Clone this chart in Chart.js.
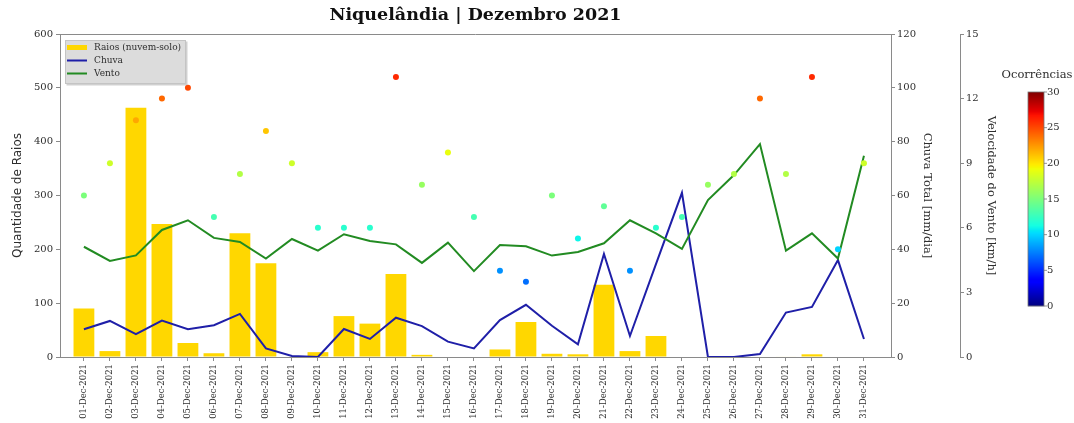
<!DOCTYPE html>
<html>
<head>
<meta charset="utf-8">
<title>Niquelândia | Dezembro 2021</title>
<script src="https://cdn.jsdelivr.net/npm/chart.js@4.4.0/dist/chart.umd.min.js"></script>
<style>
  html, body { margin: 0; padding: 0; background: #fff; }
  #grafico { display: block; }
</style>
</head>
<body>
<canvas id="grafico" width="1074" height="423"></canvas>
<script>
// Dados diários - Niquelândia, dezembro de 2021
const dias = [
  '01-Dec-2021', '02-Dec-2021', '03-Dec-2021', '04-Dec-2021', '05-Dec-2021', '06-Dec-2021',
  '07-Dec-2021', '08-Dec-2021', '09-Dec-2021', '10-Dec-2021', '11-Dec-2021', '12-Dec-2021',
  '13-Dec-2021', '14-Dec-2021', '15-Dec-2021', '16-Dec-2021', '17-Dec-2021', '18-Dec-2021',
  '19-Dec-2021', '20-Dec-2021', '21-Dec-2021', '22-Dec-2021', '23-Dec-2021', '24-Dec-2021',
  '25-Dec-2021', '26-Dec-2021', '27-Dec-2021', '28-Dec-2021', '29-Dec-2021', '30-Dec-2021',
  '31-Dec-2021'
];

// Raios nuvem-solo por dia
const raios = [90, 11, 463, 247, 26, 7, 230, 174, 0, 9, 76, 62, 154, 4, 0, 0,
               14, 65, 6, 5, 134, 11, 39, 0, 0, 0, 0, 1, 5, 0, 0];

// Chuva total [mm/dia]
const chuva = [10.3, 13.4, 8.5, 13.5, 10.3, 11.8, 16.0, 3.2, 0.4, 0, 10.4, 6.7, 14.6, 11.5, 5.7, 3.2,
               13.7, 19.4, 11.6, 4.7, 38.3, 7.8, 34.5, 61.0, 0, 0, 1.1, 16.5, 18.6, 36.0, 6.7];

// Velocidade do vento [km/h]
const vento = [5.12, 4.46, 4.72, 5.90, 6.35, 5.53, 5.34, 4.57, 5.48, 4.94, 5.70, 5.39, 5.23, 4.37, 5.31, 3.99,
               5.20, 5.14, 4.71, 4.88, 5.28, 6.35, 5.74, 5.02, 7.29, 8.45, 9.89, 4.94, 5.74, 4.57, 9.35];

// Número de ocorrências por dia (cor e altura dos pontos)
const ocorrencias = [15, 18, 22, 24, 25, 13, 17, 21, 18, 12, 12, 12, 26, 16, 19, 13,
                     8, 7, 15, 11, 14, 8, 12, 13, 16, 17, 24, 17, 26, 10, 18];

const ticksBarra = [0, 5, 10, 15, 20, 25, 30];

const serif = 'DejaVu Serif';
const corTexto = '#2e2e2e';
const corEixo = '#8a8a8a';

// colormap "jet" do matplotlib
function jet(v) {
  v = Math.min(1, Math.max(0, v));
  const interp = (pts) => {
    for (let i = 1; i < pts.length; i++) {
      if (v <= pts[i][0]) {
        const [x0, y0] = pts[i - 1];
        const [x1, y1] = pts[i];
        return y0 + (y1 - y0) * (v - x0) / (x1 - x0);
      }
    }
    return pts[pts.length - 1][1];
  };
  const r = interp([[0, 0], [0.35, 0], [0.66, 1], [0.89, 1], [1, 0.5]]);
  const g = interp([[0, 0], [0.125, 0], [0.375, 1], [0.64, 1], [0.91, 0], [1, 0]]);
  const b = interp([[0, 0.5], [0.11, 1], [0.34, 1], [0.65, 0], [1, 0]]);
  return `rgb(${Math.round(r * 255)},${Math.round(g * 255)},${Math.round(b * 255)})`;
}

const pontos = (arr) => arr.map((v, i) => ({ x: i, y: v }));

// linha superior do quadro
const moldura = {
  id: 'moldura',
  afterDraw(chart) {
    const { ctx, chartArea: a } = chart;
    ctx.save();
    ctx.strokeStyle = corEixo;
    ctx.lineWidth = 1;
    ctx.beginPath();
    ctx.moveTo(a.left, a.top + 0.5);
    ctx.lineTo(a.right, a.top + 0.5);
    ctx.stroke();
    ctx.restore();
  }
};

// legenda dentro do gráfico, canto superior esquerdo
const legendaInterna = {
  id: 'legendaInterna',
  afterDraw(chart) {
    const { ctx, chartArea: a } = chart;
    const x = a.left + 5, y = a.top + 6, w = 121, h = 44;
    ctx.save();
    ctx.fillStyle = 'rgba(150,150,150,0.45)';
    ctx.fillRect(x + 1.5, y + 1.5, w, h);
    ctx.fillStyle = '#dcdcdc';
    ctx.fillRect(x, y, w, h);
    ctx.strokeStyle = '#c4c4c4';
    ctx.lineWidth = 1;
    ctx.strokeRect(x + 0.5, y + 0.5, w - 1, h - 1);

    const itens = chart.data.datasets.filter(d => d.type !== 'scatter').reverse();
    ctx.font = `9px "${serif}"`;
    ctx.textBaseline = 'middle';
    itens.forEach((d, i) => {
      const cy = y + 7.5 + i * 13;
      if (d.type === 'bar') {
        ctx.fillStyle = d.backgroundColor;
        ctx.fillRect(x + 2, cy - 2.5, 20, 5);
      } else {
        ctx.strokeStyle = d.borderColor;
        ctx.lineWidth = 2;
        ctx.beginPath();
        ctx.moveTo(x + 2, cy);
        ctx.lineTo(x + 22, cy);
        ctx.stroke();
      }
      ctx.fillStyle = corTexto;
      ctx.fillText(d.label, x + 29, cy);
    });
    ctx.restore();
  }
};

// barra de cores das ocorrências
const barraCores = {
  id: 'barraCores',
  afterDraw(chart) {
    const { ctx } = chart;
    const x = 1028, top = 92, w = 16, h = 214;
    const vmax = ticksBarra[ticksBarra.length - 1];
    ctx.save();
    for (let i = 0; i < h; i++) {
      ctx.fillStyle = jet(1 - (i + 0.5) / h);
      ctx.fillRect(x, top + i, w, 1.2);
    }
    ctx.strokeStyle = '#777';
    ctx.lineWidth = 0.8;
    ctx.strokeRect(x, top, w, h);

    ctx.fillStyle = corTexto;
    ctx.font = `10px "${serif}"`;
    ctx.textBaseline = 'middle';
    ctx.textAlign = 'left';
    ticksBarra.forEach(t => {
      const ty = top + h - (t / vmax) * h;
      ctx.beginPath();
      ctx.moveTo(x + w, ty);
      ctx.lineTo(x + w + 3, ty);
      ctx.stroke();
      ctx.fillText(String(t), x + w + 3, ty);
    });
    ctx.font = `11.5px "${serif}"`;
    ctx.textAlign = 'center';
    ctx.fillText('Ocorrências', x + w / 2 + 1, top - 17);
    ctx.restore();
  }
};

Chart.defaults.font.family = serif;
Chart.defaults.color = corTexto;

const eixoY = (opts) => Object.assign({
  grid: { display: true, drawOnChartArea: false, drawTicks: true, tickLength: 4, color: corEixo },
  border: { display: true, color: corEixo },
}, opts);

new Chart(document.getElementById('grafico'), {
  type: 'bar',
  data: {
    datasets: [
      {
        type: 'scatter',
        label: 'Ocorrências',
        data: pontos(ocorrencias),
        yAxisID: 'yOc',
        pointRadius: 3,
        pointBorderWidth: 0,
        pointBackgroundColor: ocorrencias.map(v => jet(v / 30)),
        order: 0
      },
      {
        type: 'line',
        label: 'Vento',
        data: pontos(vento),
        yAxisID: 'y2',
        borderColor: '#228b22',
        borderWidth: 2,
        pointRadius: 0,
        tension: 0,
        order: 1
      },
      {
        type: 'line',
        label: 'Chuva',
        data: pontos(chuva),
        yAxisID: 'y1',
        borderColor: '#1f1fa8',
        borderWidth: 2,
        pointRadius: 0,
        tension: 0,
        order: 2
      },
      {
        type: 'bar',
        label: 'Raios (nuvem-solo)',
        data: pontos(raios),
        yAxisID: 'y',
        backgroundColor: '#ffd700',
        barPercentage: 0.8,
        categoryPercentage: 1.0,
        order: 3
      }
    ]
  },
  options: {
    responsive: false,
    animation: false,
    layout: { padding: { left: 0, right: 72, top: 0, bottom: 0 } },
    plugins: {
      legend: { display: false },
      tooltip: { enabled: false },
      title: {
        display: true,
        fullSize: false,
        text: 'Niquelândia | Dezembro 2021',
        color: '#111',
        font: { family: serif, size: 17.5, weight: 'bold' },
        padding: { top: 5, bottom: 8 }
      }
    },
    scales: {
      x: {
        type: 'linear',
        offset: false,
        min: -0.92,
        max: 31.04,
        afterBuildTicks: (s) => { s.ticks = dias.map((_, i) => ({ value: i })); },
        afterFit: (s) => { s.height = 66; },
        ticks: {
          autoSkip: false,
          minRotation: 90,
          maxRotation: 90,
          padding: 3,
          font: { family: serif, size: 8.5 },
          callback: (v) => dias[v]
        },
        grid: { display: true, offset: false, drawOnChartArea: false, drawTicks: true, tickLength: 4, color: corEixo },
        border: { display: true, color: corEixo, dash: [4, 2] }
      },
      y: eixoY({
        position: 'left',
        min: 0,
        max: 600,
        afterFit: (s) => { s.width = 60; },
        ticks: { stepSize: 100, padding: 3, font: { family: serif, size: 10 } },
        title: {
          display: true,
          text: 'Quantidade de Raios',
          font: { family: 'DejaVu Sans', size: 12 },
          padding: { top: 11 }
        }
      }),
      y1: eixoY({
        position: 'right',
        weight: 0,
        min: 0,
        max: 120,
        afterFit: (s) => { s.width = 69; },
        ticks: { stepSize: 20, padding: 2, font: { family: serif, size: 10 } },
        title: {
          display: true,
          text: 'Chuva Total [mm/dia]',
          font: { family: serif, size: 11.5 },
          padding: { top: 26 }
        }
      }),
      y2: eixoY({
        position: 'right',
        weight: 1,
        min: 0,
        max: 15,
        afterFit: (s) => { s.width = 42; },
        ticks: { stepSize: 3, padding: 2, font: { family: serif, size: 10 } },
        title: {
          display: true,
          text: 'Velocidade do Vento [km/h]',
          font: { family: serif, size: 11.5 },
          padding: { top: 4 }
        }
      }),
      yOc: { display: false, min: 0, max: 30 }
    }
  },
  plugins: [moldura, legendaInterna, barraCores]
});
</script>
</body>
</html>
